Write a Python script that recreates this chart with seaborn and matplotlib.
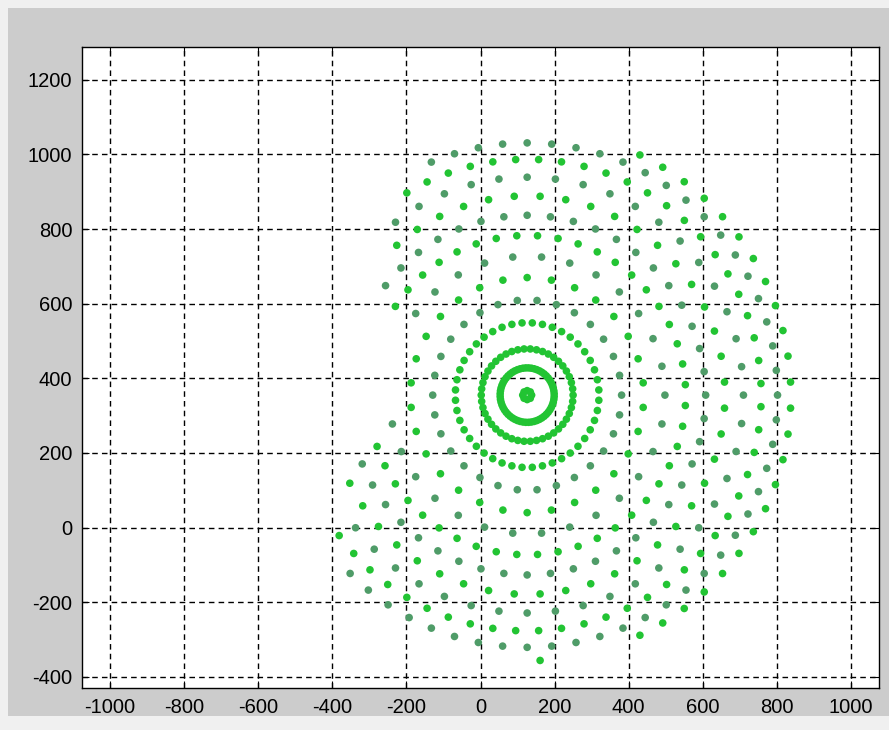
import numpy as np
import pandas as pd
import seaborn as sns
import matplotlib
matplotlib.use("Agg")
import matplotlib.pyplot as plt
from matplotlib.path import Path
from matplotlib.patches import Rectangle

# tower position (centre of the rings)
cx, cy = 126, 355

# rings: radius, number of mirrors, colour group
ring_r = [12, 73, 124, 194, 255, 315, 372, 428, 482, 534, 584, 632, 676, 712]
ring_n = [8, 60, 46, 44, 30, 30, 30, 48, 48, 48, 48, 64, 64, 64]
ring_grp = ['a', 'a', 'a', 'a', 'b', 'a', 'b', 'a', 'b', 'a', 'b', 'a', 'b', 'a']

# outline of the field (points outside are not built)
edge_x = [-120, 130, 385, 495, 595, 690, 755, 800, 845, 850, 840, 800, 755, 690,
          600, 490, 380, 140, 60, -50, -125, -230, -325, -360, -385, -378, -352,
          -327, -292, -245, -205, -205, -235, -258, -262, -254, -236, -205, -165]
edge_y = [1015, 1062, 1022, 967, 902, 817, 712, 602, 472, 350, 222, 110, 0, -100,
          -190, -262, -312, -362, -337, -312, -312, -260, -194, -127, -57, 85, 157,
          212, 270, 318, 352, 530, 592, 652, 722, 787, 857, 917, 972]

rows = []
for k, (r, n, g) in enumerate(zip(ring_r, ring_n, ring_grp)):
    th = 2 * np.pi * (np.arange(n) + 0.5 * (k % 2)) / n
    for t in th:
        rows.append((cx + r * np.cos(t), cy + r * np.sin(t), g))
df = pd.DataFrame(rows, columns=['x', 'y', 'grp'])
field = Path(np.column_stack([edge_x, edge_y]))
df = df[field.contains_points(df[['x', 'y']].values)]

plt.rcParams['font.family'] = ['Liberation Sans', 'DejaVu Sans']
plt.rcParams['axes.unicode_minus'] = False

fig = plt.figure(figsize=(8.89, 7.30), dpi=100, facecolor='#f0f0f0')
fig.patches.append(Rectangle((8 / 889, 14 / 730), 1, 1 - 22 / 730,
                             transform=fig.transFigure, facecolor='#cccccc',
                             edgecolor='none', zorder=-10))
ax = fig.add_axes([82 / 889, 42 / 730, 797 / 889, 641 / 730])
ax.set_facecolor('white')

sns.scatterplot(data=df, x='x', y='y', hue='grp',
                palette={'a': '#22c433', 'b': '#4f9c68'},
                s=30, linewidth=0, legend=False, ax=ax, zorder=3)

ax.set_xlim(-1076, 1076)
ax.set_ylim(-430, 1288)
ax.set_xticks(range(-1000, 1001, 200))
ax.set_yticks(range(-400, 1201, 200))
ax.set_xlabel('')
ax.set_ylabel('')
ax.set_axisbelow(True)
ax.grid(True, color='black', linestyle=(0, (4, 3)), linewidth=1.0)
ax.tick_params(direction='in', length=5, top=True, right=True,
               labelsize=14.5, colors='black', pad=7)
for sp in ax.spines.values():
    sp.set_color('black')
    sp.set_linewidth(1.0)

fig.savefig('out.png', dpi=100, facecolor=fig.get_facecolor())
